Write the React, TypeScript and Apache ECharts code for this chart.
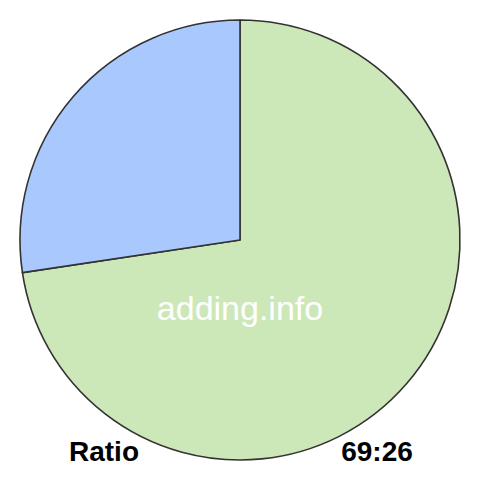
import React, { useEffect, useRef } from "react";
import * as echarts from "echarts";

const categories = ["A", "B"];
const values = [69, 26];
const colors = ["#cde8b8", "#a9c8fd"];
const watermark = "adding.info";
const leftLabel = "Ratio";
const rightLabel = "69:26";

export default function App() {
  const ref = useRef<HTMLDivElement>(null);
  useEffect(() => {
    if (!ref.current) return;
    const chart = echarts.init(ref.current, undefined, { renderer: "svg" });
    chart.setOption({
      animation: false,
      series: [
        {
          type: "pie",
          center: [240, 240],
          radius: 220,
          startAngle: 90,
          clockwise: true,
          label: { show: false },
          labelLine: { show: false },
          emphasis: { disabled: true },
          itemStyle: { borderColor: "#333333", borderWidth: 1.6 },
          data: categories.map((c, i) => ({
            name: c,
            value: values[i],
            itemStyle: { color: colors[i] },
          })),
        },
      ],
      graphic: [
        {
          type: "text",
          x: 240,
          y: 308,
          z: 10,
          style: {
            text: watermark,
            fill: "#ffffff",
            font: "34px 'Liberation Sans', Arial, sans-serif",
            align: "center",
            verticalAlign: "middle",
          },
        },
        {
          type: "text",
          x: 104,
          y: 451,
          z: 10,
          style: {
            text: leftLabel,
            fill: "#000000",
            font: "bold 28px 'Liberation Sans', Arial, sans-serif",
            align: "center",
            verticalAlign: "middle",
          },
        },
        {
          type: "text",
          x: 377,
          y: 451,
          z: 10,
          style: {
            text: rightLabel,
            fill: "#000000",
            font: "bold 28px 'Liberation Sans', Arial, sans-serif",
            align: "center",
            verticalAlign: "middle",
          },
        },
      ],
    });
    return () => chart.dispose();
  }, []);
  return (
    <div
      ref={ref}
      style={{ position: "fixed", left: 0, top: 0, width: 480, height: 480, background: "#ffffff" }}
    />
  );
}
